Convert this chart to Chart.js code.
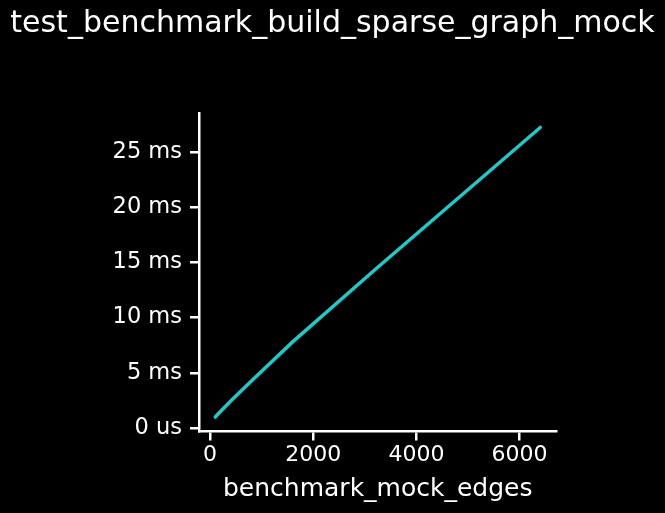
<!DOCTYPE html>
<html>
<head>
<meta charset="utf-8">
<script src="https://cdn.jsdelivr.net/npm/chart.js@4.4.1/dist/chart.umd.min.js"></script>
<style>
  html, body { margin: 0; padding: 0; background: #000; }
  #chart { display: block; }
</style>
</head>
<body>
<canvas id="chart" width="665" height="513"></canvas>
<script>
// data
const edges = [100, 200, 400, 800, 1600, 3200, 6400];
const timesMs = [1.0, 1.5, 2.45, 4.25, 7.8, 14.35, 27.2];
const xTicks = [0, 2000, 4000, 6000];
const yTicks = [0, 5, 10, 15, 20, 25];
const yTickLabels = ["0 us", "5 ms", "10 ms", "15 ms", "20 ms", "25 ms"];
const chartTitle = "test_benchmark_build_sparse_graph_mock";

const lineColor = "#24c6c6";

Chart.defaults.font.family = "'DejaVu Sans', sans-serif";
Chart.defaults.color = "#fff";

var points = [];
for (var i = 0; i < edges.length; i++) {
    points.push({ x: edges[i], y: timesMs[i] });
}

// title centred on the whole canvas, not just the padded box
var canvasTitle = {
    id: "canvasTitle",
    afterDraw: function (chart) {
        var ctx = chart.ctx;
        ctx.save();
        ctx.fillStyle = "#fff";
        ctx.font = "30px 'DejaVu Sans', sans-serif";
        ctx.textAlign = "center";
        ctx.textBaseline = "middle";
        ctx.fillText(chartTitle, chart.width / 2, 24);
        ctx.restore();
    }
};

function axisStyle() {
    return {
        grid: {
            display: true,
            drawOnChartArea: false,
            drawTicks: true,
            tickLength: 9,
            color: "#fff",
            lineWidth: 2.5
        },
        border: { display: true, color: "#fff", width: 2.5 }
    };
}

var xAxis = axisStyle();
xAxis.type = "linear";
xAxis.min = -215;
xAxis.max = 6715;
xAxis.ticks = {
    font: { size: 22 },
    padding: 2,
    maxRotation: 0,
    color: "#fff",
    callback: function (value) { return String(value); }
};
xAxis.title = {
    display: true,
    text: "benchmark_mock_edges",
    font: { size: 25 },
    color: "#fff",
    padding: { top: 0, bottom: 9 }
};
xAxis.afterBuildTicks = function (scale) {
    scale.ticks = xTicks.map(function (v) { return { value: v }; });
};
xAxis.afterFit = function (scale) { scale.height = 513 - 431.5; };

var yAxis = axisStyle();
yAxis.min = -0.31;
yAxis.max = 28.51;
yAxis.ticks = {
    font: { size: 22.5 },
    padding: 8,
    color: "#fff",
    callback: function (value) {
        var idx = yTicks.indexOf(value);
        return idx >= 0 ? yTickLabels[idx] : "";
    }
};
yAxis.afterBuildTicks = function (scale) {
    scale.ticks = yTicks.map(function (v) { return { value: v }; });
};
yAxis.afterFit = function (scale) { scale.width = 199; };

new Chart(document.getElementById("chart"), {
    type: "line",
    data: {
        datasets: [{
            label: chartTitle,
            data: points,
            borderColor: lineColor,
            backgroundColor: lineColor,
            borderWidth: 3.5,
            borderCapStyle: "round",
            pointRadius: 0,
            tension: 0,
            fill: false
        }]
    },
    options: {
        responsive: false,
        animation: false,
        layout: { padding: { left: 0, right: 108.5, top: 113, bottom: 0 } },
        plugins: {
            legend: { display: false },
            tooltip: { enabled: false },
            title: { display: false }
        },
        scales: { x: xAxis, y: yAxis }
    },
    plugins: [canvasTitle]
});
</script>
</body>
</html>
